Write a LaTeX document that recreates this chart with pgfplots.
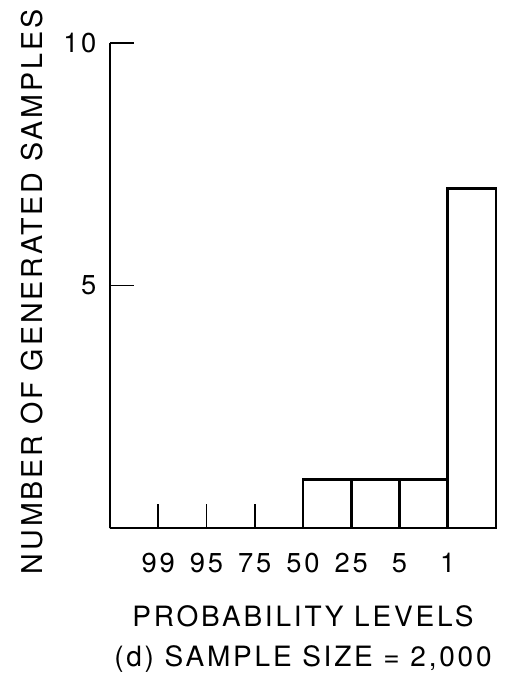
\documentclass[border=0pt]{standalone}
\usepackage{fontspec}
\setmainfont{TeX Gyre Heros}[LetterSpace=10]
\usepackage{pgfplots}
\pgfplotsset{compat=1.18}
\begin{document}
\fontsize{21}{24}\selectfont
\begin{tikzpicture}
\useasboundingbox (-82.5pt,-113.25pt) rectangle (303.75pt,396pt);
\begin{axis}[
  at={(0pt,0pt)}, anchor=south west,
  scale only axis, width=289.5pt, height=363.75pt,
  xmin=0, xmax=8, ymin=0, ymax=10,
  clip=false,
  axis x line=bottom, axis y line=left,
  axis line style={-, line width=1.4pt, black},
  xtick={1,2,3,4,5,6,7}, xticklabels={99,95,75,50,25,5,1},
  ytick={5,10},
  tick align=inside, major tick length=18pt,
  tick style={line width=1.4pt, black},
  /pgf/number format/assume math mode=true,
  ticklabel style={font=\fontsize{20.5}{24}\selectfont},
  xticklabel style={anchor=base, yshift=-33.5pt},
  yticklabel style={anchor=east, xshift=-3pt},
  xlabel={PROBABILITY LEVELS\\(d) SAMPLE SIZE = 2,000},
  xlabel style={align=center, at={(axis description cs:0.5,0)}, anchor=north, yshift=-51pt, font=\fontsize{21}{30}\selectfont},
  ylabel={NUMBER OF GENERATED SAMPLES},
  ylabel style={at={(axis description cs:-0.176,0.487)}, anchor=base, font=\fontsize{21.5}{24}\selectfont},
]
\addplot[ybar interval, draw=black, fill=none, line width=1.9pt]
  coordinates {(0,0) (1,0) (2,0) (3,0) (4,1) (5,1) (6,1) (7,7) (8,7)};
\end{axis}
\end{tikzpicture}
\end{document}
